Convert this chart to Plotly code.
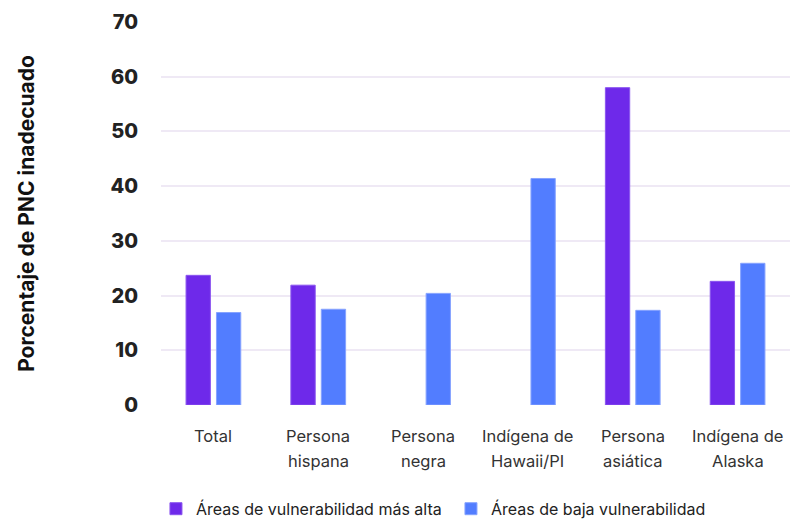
import plotly.graph_objects as go

categories = ["Total", "Persona hispana", "Persona negra", "Indígena de Hawaii/PI", "Persona asiática", "Indígena de Alaska"]
label_line1 = ["Total", "Persona", "Persona", "Indígena de", "Persona", "Indígena de"]
label_line2 = ["", "hispana", "negra", "Hawaii/PI", "asiática", "Alaska"]
high_vuln = [23.7, 21.9, None, None, 58.0, 22.6]
low_vuln = [16.9, 17.5, 20.4, 41.4, 17.3, 25.9]
series_names = ["Áreas de vulnerabilidad más alta", "Áreas de baja vulnerabilidad"]
y_ticks = [0, 10, 20, 30, 40, 50, 60, 70]

fig = go.Figure()
fig.add_trace(go.Bar(x=categories, y=high_vuln, name=series_names[0],
                     marker=dict(color="#6e29ea", line=dict(color="#8a55ef", width=1))))
fig.add_trace(go.Bar(x=categories, y=low_vuln, name=series_names[1],
                     marker=dict(color="#527dff", line=dict(color="#86a3ff", width=1))))

for cat, l1, l2 in zip(categories, label_line1, label_line2):
    fig.add_annotation(x=cat, y=0, xref="x", yref="paper", text=l1, showarrow=False,
                       yanchor="middle", yshift=-31, font=dict(size=16.5, color="#333333"))
    if l2:
        fig.add_annotation(x=cat, y=0, xref="x", yref="paper", text=l2, showarrow=False,
                           yanchor="middle", yshift=-56, font=dict(size=16.5, color="#333333"))

fig.update_layout(
    width=803, height=519,
    margin=dict(l=153, r=21, t=14, b=122, autoexpand=False),
    paper_bgcolor="white", plot_bgcolor="white",
    font=dict(family="Inter", color="#222222"),
    barmode="group", bargap=0.42, bargroupgap=0.2,
    showlegend=True,
    legend=dict(orientation="h", x=-0.008, xanchor="left", y=-0.271, yanchor="middle",
                font=dict(size=16, color="#222222"), traceorder="normal",
                entrywidthmode="pixels", entrywidth=250),
)
fig.update_xaxes(showgrid=False, showline=False, ticks="", showticklabels=False)
fig.update_yaxes(range=[0, 70], tickvals=y_ticks, showgrid=True, gridcolor="#efe9f5", gridwidth=2,
                 zeroline=False, showline=False, ticks="",
                 tickfont=dict(size=20, color="#222222", family="Inter", weight=800),
                 ticklabelstandoff=22,
                 title=dict(text="<b>Porcentaje de PNC inadecuado</b>", font=dict(size=21, color="#111111"), standoff=70))
fig.write_html("out.html")
